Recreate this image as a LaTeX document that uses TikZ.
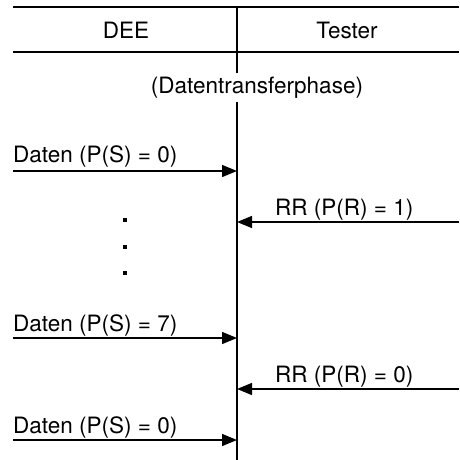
\documentclass[tikz,border=0pt]{standalone}
\usepackage{fontspec}
\setmainfont{TeX Gyre Heros}
\usetikzlibrary{arrows.meta}
\begin{document}
\begin{tikzpicture}[x=1pt,y=-1pt,
  rule/.style={line width=1.3pt},
  msg/.style={line width=1.3pt,-{Triangle[length=15pt,width=12pt]}},
  lbl/.style={font=\fontsize{22.5}{26}\selectfont,inner sep=0pt},
  dot/.style={fill=black,minimum size=4pt,inner sep=0pt}]
\useasboundingbox (0,0) rectangle (459,460);
% header rules and lifeline
\coordinate (hl1) at (13,7);   \coordinate (hr1) at (459,7);
\coordinate (hl2) at (13,52);  \coordinate (hr2) at (459,52);
\coordinate (ltop) at (237,7); \coordinate (lbot) at (237,460);
\draw[rule] (hl1) -- (hr1);
\draw[rule] (hl2) -- (hr2);
\draw[rule] (ltop) -- (lbot);
\node[lbl,anchor=base] (dee) at (126,39) {DEE};
\node[lbl,anchor=base] (tester) at (347,39) {Tester};
\node[lbl,anchor=base,fill=white,inner xsep=1pt,inner ysep=4pt] (phase) at (257,93) {(Datentransferphase)};
% messages
\coordinate (a1) at (13,171);  \coordinate (b1) at (237,171);
\coordinate (a2) at (459,222); \coordinate (b2) at (237,222);
\coordinate (a3) at (13,338);  \coordinate (b3) at (237,338);
\coordinate (a4) at (459,389); \coordinate (b4) at (237,389);
\coordinate (a5) at (13,440);  \coordinate (b5) at (237,440);
\draw[msg] (a1) -- (b1);
\draw[msg] (a2) -- (b2);
\draw[msg] (a3) -- (b3);
\draw[msg] (a4) -- (b4);
\draw[msg] (a5) -- (b5);
\node[lbl,anchor=base west] (m1) at (13,162) {Daten (P(S) = 0)};
\node[lbl,anchor=base west] (m2) at (275,215) {RR (P(R) = 1)};
\node[lbl,anchor=base west] (m3) at (13,331) {Daten (P(S) = 7)};
\node[lbl,anchor=base west] (m4) at (275,382) {RR (P(R) = 0)};
\node[lbl,anchor=base west] (m5) at (13,433) {Daten (P(S) = 0)};
% ellipsis
\node[dot] (d1) at (125,220) {};
\node[dot] (d2) at (125,247) {};
\node[dot] (d3) at (125,273) {};
\end{tikzpicture}
\end{document}
